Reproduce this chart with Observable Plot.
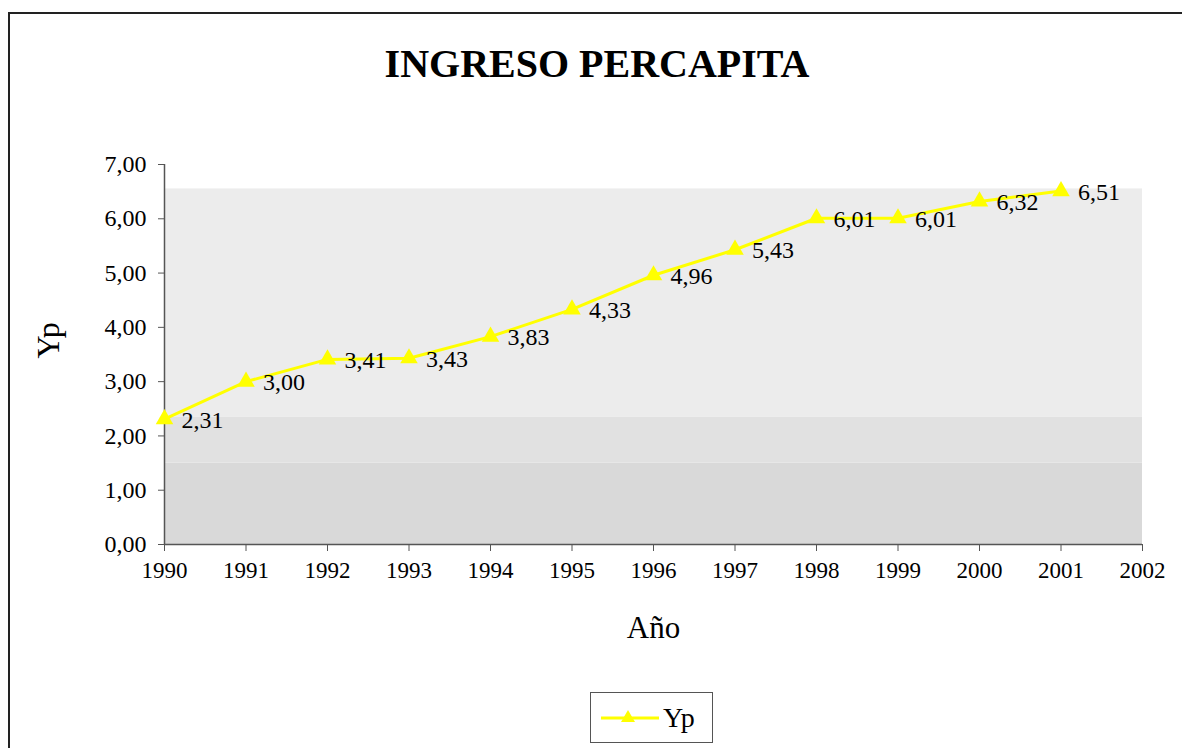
<!DOCTYPE html>
<html>
<head>
<meta charset="utf-8">
<script src="https://cdn.jsdelivr.net/npm/d3@7"></script>
<script src="https://cdn.jsdelivr.net/npm/@observablehq/plot@0.6"></script>
<style>
  html, body { margin: 0; padding: 0; background: #fff; overflow: hidden; }
  #wrap { position: relative; width: 1182px; height: 748px; overflow: hidden; font-family: "Liberation Serif", "DejaVu Serif", serif; }
  #border { position: absolute; left: 8px; top: 12px; width: 1200px; height: 800px; border: 2px solid #222; box-sizing: border-box; }
  #title { position: absolute; left: 0; width: 1194px; top: 40px; text-align: center; font-weight: bold; font-size: 40px; color: #000; }
  #chart { position: absolute; left: 0; top: 0; }
  #legend { position: absolute; left: 590px; top: 692px; width: 123px; height: 51px; border: 1.5px solid #555; box-sizing: border-box; background: #fff; display: flex; align-items: center; }
  #legend span { font-size: 28px; margin-left: 2px; }
</style>
</head>
<body>
<div id="wrap">
  <div id="border"></div>
  <div id="chart"></div>
  <div id="title">INGRESO PERCAPITA</div>
  <div id="legend"><svg width="70" height="30"><line x1="10" x2="68" y1="15" y2="15" stroke="#ffff00" stroke-width="3"/><path d="M37,7 L44,19 L30,19 Z" fill="#ffff00"/></svg><span>Yp</span></div>
</div>
<script>
const years = [1990, 1991, 1992, 1993, 1994, 1995, 1996, 1997, 1998, 1999, 2000, 2001];
const yp = [2.31, 3.00, 3.41, 3.43, 3.83, 4.33, 4.96, 5.43, 6.01, 6.01, 6.32, 6.51];
const xTicks = [1990, 1991, 1992, 1993, 1994, 1995, 1996, 1997, 1998, 1999, 2000, 2001, 2002];
const yTicks = [0, 1, 2, 3, 4, 5, 6, 7];
const bgBands = [
  {y1: 0, y2: 1.5, shade: "#d9d9d9"},
  {y1: 1.5, y2: 2.35, shade: "#e1e1e1"},
  {y1: 2.35, y2: 6.55, shade: "#ececec"}
];

const data = years.map((year, i) => ({year, value: yp[i]}));
const fmt = v => d3.format(".2f")(v).replace(".", ",");
const yellow = "#ffff00";

const chart = Plot.plot({
  width: 1182,
  height: 748,
  marginLeft: 164,
  marginRight: 40,
  marginTop: 164,
  marginBottom: 204,
  style: {fontFamily: "Liberation Serif, serif", fontSize: "22px", background: "transparent", color: "#000"},
  x: {domain: [1990, 2002], type: "linear"},
  y: {domain: [0, 7]},
  marks: [
    Plot.rect(bgBands, {x1: 1990, x2: 2002, y1: "y1", y2: "y2", fill: "shade"}),
    Plot.ruleX([1990], {y1: 0, y2: 7, stroke: "#555", strokeWidth: 1.5}),
    Plot.ruleY([0], {x1: 1990, x2: 2002, stroke: "#555", strokeWidth: 1.5}),
    Plot.axisY({ticks: yTicks, tickFormat: fmt, tickSize: 6, tickPadding: 12, fontSize: 24, label: null, stroke: "#555"}),
    Plot.axisX({ticks: xTicks, tickFormat: d => String(d), tickSize: 7, tickPadding: 10, fontSize: 23, label: null, stroke: "#555"}),
    Plot.text(["Yp"], {frameAnchor: "left", dx: -116, dy: 4, rotate: -90, fontSize: 32}),
    Plot.text(["Año"], {frameAnchor: "bottom", dx: 0, dy: 93, fontSize: 31}),
    Plot.line(data, {x: "year", y: "value", stroke: yellow, strokeWidth: 3}),
    Plot.dot(data, {x: "year", y: "value", symbol: "triangle", fill: yellow, r: 6.5}),
    Plot.text(data, {x: "year", y: "value", text: d => fmt(d.value), textAnchor: "start", dx: 17, dy: 1, fontSize: 24, fill: "#000"})
  ]
});
document.getElementById("chart").appendChild(chart);
</script>
</body>
</html>
